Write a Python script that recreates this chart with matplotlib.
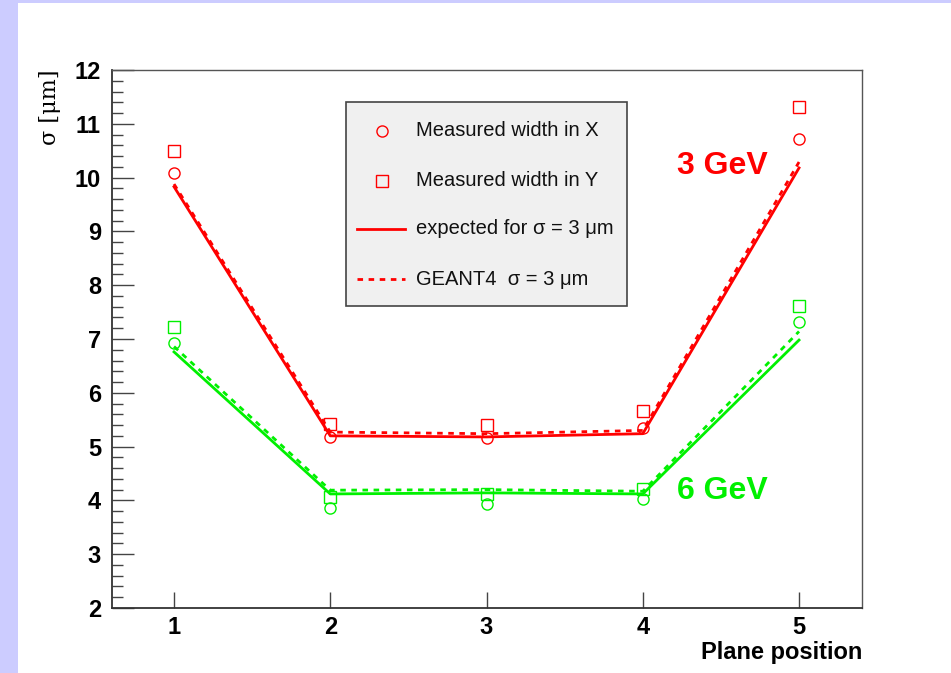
import matplotlib
matplotlib.use("Agg")
import matplotlib.pyplot as plt
from matplotlib.patches import Rectangle
from matplotlib.lines import Line2D

plt.rcParams['font.family'] = ['Liberation Sans', 'DejaVu Sans']

# Plane positions along the telescope
planes = [1, 2, 3, 4, 5]

# 3 GeV beam: measured widths and predictions (um)
x_3gev = [10.08, 5.18, 5.16, 5.35, 10.71]
y_3gev = [10.49, 5.42, 5.40, 5.66, 11.31]
exp_3gev = [9.83, 5.20, 5.18, 5.24, 10.18]
g4_3gev = [9.88, 5.27, 5.24, 5.30, 10.29]

# 6 GeV beam: measured widths and predictions (um)
x_6gev = [6.93, 3.86, 3.93, 4.03, 7.32]
y_6gev = [7.22, 4.06, 4.12, 4.21, 7.62]
exp_6gev = [6.76, 4.12, 4.14, 4.12, 6.98]
g4_6gev = [6.86, 4.19, 4.20, 4.17, 7.14]

ytick_vals = [2, 3, 4, 5, 6, 7, 8, 9, 10, 11, 12]
legend_labels = ['Measured width in X', 'Measured width in Y',
                 'expected for σ = 3 μm', 'GEANT4  σ = 3 μm']

W, H = 951, 673
fig = plt.figure(figsize=(W / 100, H / 100), dpi=100, facecolor='white')


def fx(px):
    return px / W


def fy(py):
    return 1 - py / H


# lavender frame strips
fig.patches.append(Rectangle((0, 0), fx(18), 1, transform=fig.transFigure,
                             facecolor='#ccccff', edgecolor='none', zorder=0))
fig.patches.append(Rectangle((0, fy(3)), 1, 3 / H, transform=fig.transFigure,
                             facecolor='#ccccff', edgecolor='none', zorder=0))

ax = fig.add_axes([fx(112), fy(608), 750 / W, 538 / H])
ax.set_facecolor('white')

red = '#ff0000'
green = '#00f000'
ms = 8

for xs, ys, ex, g4, c in [(x_3gev, y_3gev, exp_3gev, g4_3gev, red),
                          (x_6gev, y_6gev, exp_6gev, g4_6gev, green)]:
    ax.plot(planes, ex, '-', color=c, lw=2.0, zorder=3)
    ax.plot(planes, g4, '--', color=c, lw=2.0, dashes=(2.0, 2.0), zorder=3)
    ax.plot(planes, xs, 'o', ms=ms, mfc='none', mec=c, mew=1.0, zorder=4)
    ax.plot(planes, ys, 's', ms=ms, mfc='none', mec=c, mew=1.0, zorder=4)

ax.set_xlim(0.603, 5.403)
ax.set_ylim(2, 12)
ax.set_xticks(planes)
ax.set_yticks(ytick_vals)
ax.set_yticks([v / 5 for v in range(10, 61)], minor=True)
ax.set_xticklabels([str(p) for p in planes], fontsize=17, fontweight='bold')
ax.set_yticklabels([str(v) for v in ytick_vals], fontsize=17, fontweight='bold')

ax.tick_params(axis='y', which='major', direction='in', length=15.8, width=1.0,
               color='#444444', pad=8, left=True, right=False)
ax.tick_params(axis='y', which='minor', direction='in', length=7.9, width=1.0,
               color='#444444', left=True, right=False)
ax.tick_params(axis='x', which='major', direction='in', length=11.5, width=1.0,
               color='#444444', pad=6, top=False, bottom=True)
ax.tick_params(axis='x', which='minor', bottom=False, top=False)

for s in ['left', 'bottom']:
    ax.spines[s].set_color('#333333')
    ax.spines[s].set_linewidth(1.3)
for s in ['top', 'right']:
    ax.spines[s].set_color('#555555')
    ax.spines[s].set_linewidth(1.0)

ax.text(1.0, -0.083, 'Plane position', transform=ax.transAxes, ha='right', va='center',
        fontsize=17, fontweight='bold')
fig.text(fx(50), fy(107), 'σ [μm]', rotation=90, ha='center', va='center',
         fontsize=16, family=['DejaVu Serif', 'DejaVu Sans'])

fig.text(fx(722), fy(166), '3 GeV', color=red, fontsize=23, fontweight='bold',
         ha='center', va='center')
fig.text(fx(722), fy(491), '6 GeV', color=green, fontsize=23, fontweight='bold',
         ha='center', va='center')

# legend box drawn in figure pixels
fig.patches.append(Rectangle((fx(346), fy(306)), 281 / W, 204 / H,
                             transform=fig.transFigure, facecolor='#f0f0f0',
                             edgecolor='#444444', linewidth=1.2, zorder=5))
rows = [131, 181, 229, 279]
handle_styles = [
    dict(ls='none', marker='o', ms=ms, mfc='none', mec=red, mew=1.0),
    dict(ls='none', marker='s', ms=ms, mfc='none', mec=red, mew=1.0),
    dict(ls='-', color=red, lw=2.0),
    dict(ls='--', color=red, lw=2.0, dashes=(2.0, 2.0)),
]
for ry, lab, st in zip(rows, legend_labels, handle_styles):
    if st['ls'] == 'none':
        h = Line2D([fx(382)], [fy(ry)], transform=fig.transFigure, zorder=6, **st)
    else:
        h = Line2D([fx(357), fx(405)], [fy(ry), fy(ry)], transform=fig.transFigure,
                   zorder=6, **st)
    fig.lines.append(h)
    fig.text(fx(416), fy(ry), lab, fontsize=14.5, ha='left', va='center', zorder=6,
             color='#111111')

fig.savefig('out.png', dpi=100, facecolor='white')
